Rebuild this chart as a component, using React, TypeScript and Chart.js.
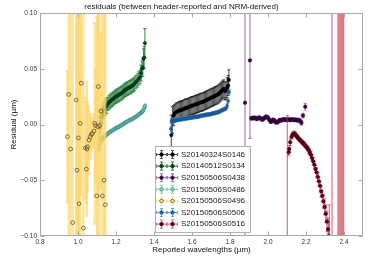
import React, { useEffect, useRef } from "react";
import { Chart, registerables } from "chart.js";

Chart.register(...registerables);

type Pt = [number, number, number]; // wavelength, residual, error

const xTicks = [0.8, 1.0, 1.2, 1.4, 1.6, 1.8, 2.0, 2.2, 2.4];
const yTicks = [-0.1, -0.05, 0, 0.05, 0.1];

const titleText = "residuals (between header-reported and NRM-derived)";
const xLabel = "Reported wavelengths (\u00b5m)";
const yLabel = "Residual (\u00b5m)";

const s0146: Pt[] = [
  [1.491, -0.0095, 0.018], [1.497, 0.004, 0.012], [1.503, 0.008, 0.009], [1.509, 0.010, 0.008],
  [1.515, 0.011, 0.008], [1.521, 0.0115, 0.008], [1.527, 0.012, 0.008], [1.533, 0.0125, 0.008],
  [1.539, 0.013, 0.008], [1.545, 0.013, 0.008], [1.551, 0.0135, 0.008], [1.557, 0.014, 0.008],
  [1.563, 0.0145, 0.008], [1.569, 0.015, 0.008], [1.575, 0.015, 0.008], [1.581, 0.0155, 0.008],
  [1.587, 0.016, 0.008], [1.593, 0.0165, 0.008], [1.599, 0.017, 0.008], [1.605, 0.017, 0.008],
  [1.611, 0.0175, 0.008], [1.617, 0.018, 0.008], [1.623, 0.0185, 0.008], [1.629, 0.0185, 0.008],
  [1.635, 0.019, 0.008], [1.641, 0.0195, 0.008], [1.647, 0.020, 0.008], [1.653, 0.020, 0.008],
  [1.659, 0.0205, 0.008], [1.665, 0.021, 0.008], [1.671, 0.0215, 0.008], [1.677, 0.022, 0.008],
  [1.683, 0.0225, 0.008], [1.689, 0.023, 0.008], [1.695, 0.0235, 0.008], [1.701, 0.024, 0.008],
  [1.707, 0.0245, 0.008], [1.713, 0.025, 0.008], [1.719, 0.0255, 0.008], [1.725, 0.026, 0.008],
  [1.731, 0.0265, 0.008], [1.737, 0.027, 0.008], [1.743, 0.028, 0.008], [1.749, 0.029, 0.008],
  [1.755, 0.030, 0.008], [1.761, 0.031, 0.008], [1.767, 0.032, 0.008], [1.773, 0.030, 0.008],
  [1.779, 0.0305, 0.008], [1.785, 0.033, 0.009], [1.790, 0.035, 0.009], [1.794, 0.040, 0.009],
];

const s0134: Pt[] = [
  [1.115, -0.003, 0.009], [1.118, 0.002, 0.009], [1.122, 0.0066, 0.008], [1.128, 0.009, 0.008],
  [1.134, 0.012, 0.007], [1.139, 0.014, 0.007], [1.145, 0.0155, 0.007], [1.151, 0.017, 0.007],
  [1.157, 0.0185, 0.006], [1.163, 0.0198, 0.006], [1.169, 0.0208, 0.006], [1.174, 0.0216, 0.006],
  [1.180, 0.0225, 0.006], [1.186, 0.0233, 0.006], [1.192, 0.0241, 0.006], [1.198, 0.0248, 0.006],
  [1.204, 0.0255, 0.006], [1.209, 0.026, 0.006], [1.215, 0.0267, 0.006], [1.221, 0.0273, 0.006],
  [1.227, 0.028, 0.006], [1.233, 0.0287, 0.006], [1.239, 0.0296, 0.006], [1.244, 0.0305, 0.006],
  [1.250, 0.0311, 0.006], [1.256, 0.0318, 0.006], [1.262, 0.0323, 0.006], [1.268, 0.033, 0.006],
  [1.274, 0.0335, 0.006], [1.279, 0.034, 0.006], [1.285, 0.0348, 0.006], [1.291, 0.0355, 0.006],
  [1.297, 0.0365, 0.006], [1.305, 0.038, 0.006], [1.312, 0.0395, 0.006], [1.320, 0.0412, 0.006],
  [1.327, 0.0425, 0.006], [1.332, 0.046, 0.007], [1.336, 0.050, 0.007], [1.341, 0.051, 0.008],
  [1.345, 0.059, 0.009], [1.348, 0.060, 0.010], [1.352, 0.073, 0.013],
];

const s0438: Pt[] = [
  [1.879, 0.0195, 0.25], [1.905, 0.0575, 0.07],
  [1.912, 0.0055, 0.0015], [1.918, 0.0058, 0.0015], [1.924, 0.0057, 0.0015], [1.930, 0.006, 0.0015],
  [1.936, 0.0055, 0.0015], [1.942, 0.005, 0.0015], [1.948, 0.0058, 0.0015], [1.954, 0.0062, 0.0015],
  [1.960, 0.0056, 0.0015], [1.966, 0.0048, 0.0015], [1.972, 0.0045, 0.0015], [1.978, 0.0055, 0.0015],
  [1.984, 0.0062, 0.0015], [1.990, 0.007, 0.0015], [1.996, 0.0066, 0.0015], [2.002, 0.0055, 0.0015],
  [2.008, 0.004, 0.0015], [2.014, 0.0025, 0.0015], [2.020, 0.003, 0.0015], [2.026, 0.0042, 0.0015],
  [2.032, 0.0038, 0.0015], [2.038, 0.0025, 0.0015], [2.044, 0.0018, 0.0015], [2.050, 0.0022, 0.0015],
  [2.056, 0.003, 0.0015], [2.062, 0.004, 0.0015], [2.068, 0.0036, 0.0015], [2.074, 0.004, 0.0015],
  [2.080, 0.0046, 0.0015], [2.086, 0.0044, 0.0015], [2.092, 0.004, 0.0015], [2.098, 0.0044, 0.0015],
  [2.104, 0.0046, 0.0015], [2.110, 0.0044, 0.0015], [2.116, 0.004, 0.0015], [2.122, 0.0043, 0.0015],
  [2.128, 0.0046, 0.0015], [2.134, 0.0042, 0.0015], [2.140, 0.004, 0.0015], [2.146, 0.0043, 0.0015],
  [2.152, 0.004, 0.0015], [2.158, 0.0036, 0.0015], [2.164, 0.004, 0.0015], [2.170, 0.003, 0.0015],
  [2.176, 0.0015, 0.002], [2.184, 0.008, 0.002], [2.196, 0.016, 0.003],
];

const s0486: Pt[] = [
  [1.108, -0.022, 0.003], [1.112, -0.019, 0.0025], [1.117, -0.0165, 0.002], [1.122, -0.0144, 0.0015],
  [1.128, -0.013, 0.0015], [1.134, -0.0117, 0.0015], [1.140, -0.0107, 0.0015], [1.148, -0.0097, 0.0015],
  [1.155, -0.0085, 0.0015], [1.162, -0.0075, 0.0015], [1.169, -0.0066, 0.0015], [1.176, -0.0058, 0.0015],
  [1.183, -0.0052, 0.0015], [1.190, -0.0043, 0.0015], [1.197, -0.0035, 0.0015], [1.204, -0.003, 0.0015],
  [1.211, -0.0024, 0.0015], [1.218, -0.0018, 0.0015], [1.225, -0.001, 0.0015], [1.232, -0.0003, 0.0015],
  [1.239, 0.0005, 0.0015], [1.246, 0.0013, 0.0015], [1.253, 0.0021, 0.0015], [1.260, 0.0028, 0.0015],
  [1.267, 0.0035, 0.0015], [1.274, 0.004, 0.0015], [1.281, 0.0046, 0.0015], [1.288, 0.0052, 0.0015],
  [1.295, 0.006, 0.0015], [1.302, 0.0068, 0.0015], [1.309, 0.0075, 0.0015], [1.316, 0.0085, 0.0015],
  [1.323, 0.0094, 0.0015], [1.330, 0.0103, 0.0015], [1.336, 0.0112, 0.0015], [1.341, 0.012, 0.0015],
  [1.346, 0.0132, 0.0015], [1.350, 0.0155, 0.0015], [1.353, 0.0168, 0.0015],
];

const s0496: Pt[] = [
  [0.944, -0.011, 0.059], [0.951, 0.027, 0.16], [0.961, -0.022, 0.14], [0.972, -0.088, 0.2],
  [0.990, 0.022, 0.15], [0.995, -0.041, 0.2], [1.002, -0.012, 0.13], [1.005, -0.071, 0.18],
  [1.012, 0.001, 0.12], [1.017, 0.037, 0.1], [1.028, -0.093, 0.2], [1.039, -0.021, 0.045],
  [1.044, -0.04, 0.03], [1.047, -0.022, 0.06], [1.050, -0.02, 0.04], [1.058, -0.014, 0.03],
  [1.065, -0.011, 0.02], [1.070, -0.009, 0.015], [1.075, -0.008, 0.012], [1.084, -0.006, 0.015],
  [1.088, 0.001, 0.09], [1.092, -0.001, 0.05], [1.099, -0.064, 0.16], [1.104, -0.002, 0.12],
  [1.107, 0.034, 0.1], [1.113, -0.001, 0.15], [1.121, 0.012, 0.07], [1.128, -0.064, 0.17],
  [1.137, -0.05, 0.15], [1.144, -0.072, 0.2],
];

const s0506: Pt[] = [
  [1.489, -0.004, 0.002], [1.492, 0.003, 0.002], [1.497, 0.002, 0.0015], [1.503, 0.003, 0.0015],
  [1.509, 0.0035, 0.0015], [1.515, 0.004, 0.0015], [1.521, 0.004, 0.0015], [1.527, 0.0042, 0.0015],
  [1.533, 0.0045, 0.0015], [1.539, 0.0045, 0.0015], [1.545, 0.0048, 0.0015], [1.551, 0.005, 0.0015],
  [1.557, 0.005, 0.0015], [1.563, 0.0052, 0.0015], [1.569, 0.0055, 0.0015], [1.575, 0.0055, 0.0015],
  [1.581, 0.0058, 0.0015], [1.587, 0.006, 0.0015], [1.593, 0.006, 0.0015], [1.599, 0.0062, 0.0015],
  [1.605, 0.0065, 0.0015], [1.611, 0.0065, 0.0015], [1.617, 0.0068, 0.0015], [1.623, 0.007, 0.0015],
  [1.629, 0.007, 0.0015], [1.635, 0.0072, 0.0015], [1.641, 0.0075, 0.0015], [1.647, 0.0078, 0.0015],
  [1.653, 0.008, 0.0015], [1.659, 0.0082, 0.0015], [1.665, 0.0085, 0.0015], [1.671, 0.0085, 0.0015],
  [1.677, 0.0088, 0.0015], [1.683, 0.009, 0.0015], [1.689, 0.009, 0.0015], [1.695, 0.0092, 0.0015],
  [1.701, 0.0095, 0.0015], [1.707, 0.0098, 0.0015], [1.713, 0.01, 0.0015], [1.719, 0.0102, 0.0015],
  [1.725, 0.0105, 0.0015], [1.731, 0.0108, 0.0015], [1.737, 0.011, 0.0015], [1.743, 0.0115, 0.0015],
  [1.749, 0.012, 0.0015], [1.755, 0.0125, 0.0015], [1.761, 0.013, 0.0015], [1.767, 0.0135, 0.0015],
  [1.773, 0.014, 0.0015], [1.779, 0.0145, 0.0015], [1.785, 0.017, 0.002], [1.790, 0.021, 0.002],
  [1.795, 0.029, 0.002],
];

const s0516: Pt[] = [
  [2.102, -0.13, 0.138], [2.109, -0.0249, 0.003], [2.112, -0.022, 0.003], [2.117, -0.0159, 0.003],
  [2.124, -0.011, 0.002], [2.130, -0.009, 0.002], [2.136, -0.008, 0.002], [2.142, -0.0085, 0.002],
  [2.148, -0.01, 0.002], [2.154, -0.011, 0.002], [2.160, -0.0125, 0.002], [2.166, -0.0135, 0.002],
  [2.172, -0.0145, 0.002], [2.178, -0.0155, 0.002], [2.184, -0.0165, 0.002], [2.190, -0.0175, 0.002],
  [2.196, -0.019, 0.002], [2.202, -0.02, 0.002], [2.208, -0.0215, 0.002], [2.214, -0.023, 0.003],
  [2.220, -0.025, 0.003], [2.226, -0.027, 0.003], [2.232, -0.03, 0.003], [2.238, -0.033, 0.003],
  [2.244, -0.036, 0.003], [2.250, -0.04, 0.003], [2.256, -0.043, 0.004], [2.262, -0.047, 0.004],
  [2.268, -0.051, 0.004], [2.274, -0.055, 0.004], [2.280, -0.06, 0.005], [2.286, -0.064, 0.005],
  [2.292, -0.069, 0.006], [2.298, -0.074, 0.007], [2.304, -0.08, 0.008], [2.310, -0.087, 0.009],
  [2.316, -0.094, 0.01], [2.320, -0.1, 0.012], [2.323, -0.115, 0.043], [2.337, -0.2, 0.4],
  [2.368, -0.3, 0.5], [2.374, -0.3, 0.5], [2.380, -0.3, 0.5], [2.386, -0.3, 0.5],
  [2.392, -0.3, 0.5], [2.398, -0.3, 0.5],
];

const FONT = "'Liberation Sans', Arial, Helvetica, sans-serif";

const series = [
  { label: "S20140324S0146", pts: s0146, fill: "#000000", edge: "#000000", err: "rgba(0,0,0,0.65)", r: 1.6, ew: 1.1 },
  { label: "S20140512S0134", pts: s0134, fill: "#00441b", edge: "#00331a", err: "rgba(27,120,55,0.8)", r: 1.6, ew: 1.1 },
  { label: "S20150506S0438", pts: s0438, fill: "#40004b", edge: "#2d0035", err: "rgba(153,112,171,0.85)", r: 1.7, ew: 1.2 },
  { label: "S20150506S0486", pts: s0486, fill: "rgba(128,205,193,0.6)", edge: "#2f7f78", err: "rgba(128,205,193,0.8)", r: 1.6, ew: 1.1 },
  { label: "S20150506S0496", pts: s0496, fill: "rgba(254,224,139,0.25)", edge: "#4a3b1b", err: "rgba(253,214,105,0.7)", r: 1.9, ew: 2.2 },
  { label: "S20150506S0506", pts: s0506, fill: "#2166ac", edge: "#1b4f86", err: "rgba(67,147,195,0.8)", r: 1.4, ew: 1.0 },
  { label: "S20150506S0516", pts: s0516, fill: "#67001f", edge: "#3a0010", err: "rgba(205,40,60,0.6)", r: 1.7, ew: 1.3 },
];

const CAP = 1.6;

const errorBarPlugin = {
  id: "errorbars",
  beforeDatasetDraw(chart: any, args: any) {
    const ds = chart.data.datasets[args.index];
    const errs: number[] = ds.errors;
    if (!errs) return;
    const { ctx, chartArea: ca } = chart;
    const xs = chart.scales.x;
    const ys = chart.scales.y;
    ctx.save();
    ctx.beginPath();
    ctx.rect(ca.left, ca.top, ca.right - ca.left, ca.bottom - ca.top);
    ctx.clip();
    ctx.strokeStyle = ds.errColor;
    ctx.lineWidth = ds.errWidth;
    ds.data.forEach((p: any, i: number) => {
      const e = errs[i];
      const px = xs.getPixelForValue(p.x);
      const y1 = Math.max(ys.getPixelForValue(p.y + e), ca.top - 20);
      const y2 = Math.min(ys.getPixelForValue(p.y - e), ca.bottom + 20);
      ctx.beginPath();
      ctx.moveTo(px, y1);
      ctx.lineTo(px, y2);
      ctx.moveTo(px - CAP, y1);
      ctx.lineTo(px + CAP, y1);
      ctx.moveTo(px - CAP, y2);
      ctx.lineTo(px + CAP, y2);
      ctx.stroke();
    });
    ctx.restore();
  },
};

const framePlugin = {
  id: "frame",
  afterDatasetsDraw(chart: any) {
    const { ctx, chartArea: ca } = chart;
    const xs = chart.scales.x;
    const ys = chart.scales.y;
    ctx.save();
    ctx.strokeStyle = "#a8a8a8";
    ctx.lineWidth = 1;
    const L = Math.round(ca.left) + 0.5;
    const R = Math.round(ca.right) - 0.5;
    const T = Math.round(ca.top) + 0.5;
    const B = Math.round(ca.bottom) - 0.5;
    ctx.strokeRect(L, T, R - L, B - T);
    ctx.beginPath();
    xTicks.forEach((v) => {
      const px = Math.round(xs.getPixelForValue(v)) + 0.5;
      ctx.moveTo(px, B);
      ctx.lineTo(px, B - 4);
      ctx.moveTo(px, T);
      ctx.lineTo(px, T + 4);
    });
    yTicks.forEach((v) => {
      const py = Math.round(ys.getPixelForValue(v)) + 0.5;
      ctx.moveTo(L, py);
      ctx.lineTo(L + 4, py);
      ctx.moveTo(R, py);
      ctx.lineTo(R - 4, py);
    });
    ctx.stroke();
    ctx.restore();
  },
};

const legendPlugin = {
  id: "ebLegend",
  afterDraw(chart: any) {
    const { ctx } = chart;
    const bx = 155.5, by = 146.5, bw = 95, bh = 86;
    ctx.save();
    ctx.fillStyle = "#ffffff";
    ctx.fillRect(bx, by, bw, bh);
    ctx.strokeStyle = "#b0b0b0";
    ctx.lineWidth = 1;
    ctx.strokeRect(bx, by, bw, bh);
    ctx.font = `8px ${FONT}`;
    ctx.textBaseline = "middle";
    ctx.textAlign = "left";
    series.forEach((s, i) => {
      const cy = 154.5 + i * 11.6;
      [161.5, 172.5].forEach((cx) => {
        ctx.strokeStyle = s.err;
        ctx.lineWidth = 1.2;
        ctx.beginPath();
        ctx.moveTo(cx - 5, cy);
        ctx.lineTo(cx + 5, cy);
        ctx.moveTo(cx, cy - 4);
        ctx.lineTo(cx, cy + 4);
        ctx.moveTo(cx - 5, cy - CAP);
        ctx.lineTo(cx - 5, cy + CAP);
        ctx.moveTo(cx + 5, cy - CAP);
        ctx.lineTo(cx + 5, cy + CAP);
        ctx.moveTo(cx - CAP, cy - 4);
        ctx.lineTo(cx + CAP, cy - 4);
        ctx.moveTo(cx - CAP, cy + 4);
        ctx.lineTo(cx + CAP, cy + 4);
        ctx.stroke();
        ctx.beginPath();
        ctx.arc(cx, cy, 1.8, 0, Math.PI * 2);
        ctx.fillStyle = s.fill;
        ctx.fill();
        ctx.strokeStyle = s.edge;
        ctx.lineWidth = 0.7;
        ctx.stroke();
      });
      ctx.fillStyle = "#1a1a1a";
      ctx.fillText(s.label, 181, cy);
    });
    ctx.restore();
  },
};

export default function App() {
  const ref = useRef<HTMLCanvasElement>(null);
  useEffect(() => {
    if (!ref.current) return;
    const chart = new Chart(ref.current, {
      type: "scatter",
      data: {
        datasets: series.map((s, i) => ({
          label: s.label,
          data: s.pts.map((p) => ({ x: p[0], y: p[1] })),
          errors: s.pts.map((p) => p[2]),
          errColor: s.err,
          errWidth: s.ew,
          backgroundColor: s.fill,
          borderColor: s.edge,
          borderWidth: 0.7,
          pointRadius: s.r,
          pointHoverRadius: s.r,
          order: -i,
        })) as any,
      },
      options: {
        animation: false,
        responsive: false,
        maintainAspectRatio: false,
        events: [],
        layout: { padding: { left: 0, right: 11, top: 0, bottom: 0 } },
        plugins: {
          legend: { display: false },
          tooltip: { enabled: false },
          title: {
            display: true,
            text: titleText,
            color: "#111111",
            font: { family: FONT, size: 8, weight: "normal" },
            padding: { top: 2, bottom: 1.4 },
          },
        },
        scales: {
          x: {
            type: "linear",
            min: 0.8,
            max: 2.5,
            afterBuildTicks: (s: any) => {
              s.ticks = xTicks.map((v) => ({ value: v }));
            },
            afterFit: (s: any) => {
              s.height = 24;
            },
            grid: { display: false, drawTicks: false },
            border: { display: false },
            ticks: {
              padding: 2,
              color: "#333333",
              font: { family: FONT, size: 6.5 },
              maxRotation: 0,
              autoSkip: false,
              callback: (v: any) => Number(v).toFixed(1),
            },
            title: {
              display: true,
              text: xLabel,
              color: "#111111",
              font: { family: FONT, size: 8 },
              padding: { top: 0, bottom: 5 },
            },
          },
          y: {
            type: "linear",
            min: -0.1,
            max: 0.1,
            afterBuildTicks: (s: any) => {
              s.ticks = yTicks.map((v) => ({ value: v }));
            },
            afterFit: (s: any) => {
              s.width = 40;
            },
            grid: { display: false, drawTicks: false },
            border: { display: false },
            ticks: {
              padding: 3,
              color: "#333333",
              font: { family: FONT, size: 6.5 },
              autoSkip: false,
              callback: (v: any) => {
                const n = Number(v);
                const t = Math.abs(n).toFixed(2);
                return n < -1e-9 ? "\u2212" + t : t;
              },
            },
            title: {
              display: true,
              text: yLabel,
              color: "#111111",
              font: { family: FONT, size: 8 },
              padding: { top: 9, bottom: 0 },
            },
          },
        },
      } as any,
      plugins: [errorBarPlugin, framePlugin, legendPlugin],
    });
    return () => chart.destroy();
  }, []);
  return (
    <div style={{ position: "fixed", left: 0, top: 0, width: 374, height: 260, background: "#ffffff" }}>
      <canvas ref={ref} width={374} height={260} style={{ display: "block" }} />
    </div>
  );
}
